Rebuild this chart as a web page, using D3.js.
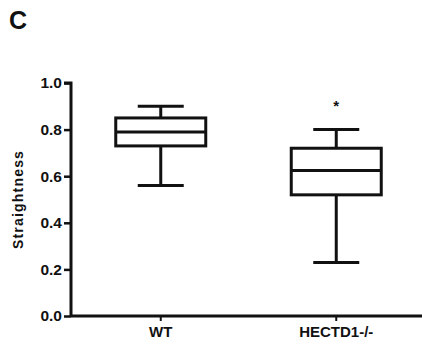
<!DOCTYPE html>
<html><head><meta charset="utf-8">
<script src="https://cdn.jsdelivr.net/npm/d3@7"></script>
<style>body{margin:0;background:#fff}svg{display:block}text{font-family:"Liberation Sans",Arial,sans-serif;font-weight:bold;fill:#111}</style>
</head><body>
<script>
const categories = ["WT", "HECTD1-/-"];
const whiskerLow = [0.56, 0.23];
const q1 = [0.73, 0.52];
const median = [0.79, 0.625];
const q3 = [0.85, 0.72];
const whiskerHigh = [0.90, 0.80];
const significance = ["", "*"];
const yTicks = [0.0, 0.2, 0.4, 0.6, 0.8, 1.0];

const W = 422, H = 349;
const svg = d3.select("body").append("svg").attr("width", W).attr("height", H);
const m = {left: 71, right: 2, top: 83, bottom: 33};
const y = d3.scaleLinear().domain([0, 1]).range([H - m.bottom, m.top]);
const x = d3.scaleBand().domain(categories).range([m.left + 2, W + 2]).padding(0.0);

const sw = 3;
const col = "#111";

// y axis
const ya = svg.append("g").attr("transform", `translate(${m.left},0)`)
  .call(d3.axisLeft(y).tickValues(yTicks).tickFormat(d3.format(".1f")).tickSize(7).tickPadding(2));
ya.select(".domain").attr("stroke", col).attr("stroke-width", sw).attr("d", `M-7,${y(1)}H0V${y(0)}`);
ya.selectAll(".tick line").attr("stroke", col).attr("stroke-width", 2.5);
ya.selectAll(".tick text").attr("font-size", 15.5).attr("fill", "#111");

// x axis
const xa = svg.append("g").attr("transform", `translate(0,${y(0)})`)
  .call(d3.axisBottom(x).tickSize(5).tickPadding(5));
xa.select(".domain").attr("stroke", col).attr("stroke-width", sw).attr("d", `M${m.left},0H${W}`);
xa.selectAll(".tick line").attr("stroke", col).attr("stroke-width", 2);
xa.selectAll(".tick text").attr("font-size", 15).attr("fill", "#111");

// boxes
const boxW = 90, capW = 46;
const g = svg.append("g").attr("stroke", col).attr("stroke-width", sw).attr("fill", "none");
categories.forEach((c, i) => {
  const cx = x(c) + x.bandwidth() / 2;
  g.append("line").attr("x1", cx).attr("x2", cx).attr("y1", y(whiskerHigh[i])).attr("y2", y(q3[i]));
  g.append("line").attr("x1", cx).attr("x2", cx).attr("y1", y(q1[i])).attr("y2", y(whiskerLow[i]));
  g.append("line").attr("x1", cx - capW/2).attr("x2", cx + capW/2).attr("y1", y(whiskerHigh[i])).attr("y2", y(whiskerHigh[i]));
  g.append("line").attr("x1", cx - capW/2).attr("x2", cx + capW/2).attr("y1", y(whiskerLow[i])).attr("y2", y(whiskerLow[i]));
  g.append("rect").attr("x", cx - boxW/2).attr("y", y(q3[i])).attr("width", boxW).attr("height", y(q1[i]) - y(q3[i]));
  g.append("line").attr("x1", cx - boxW/2).attr("x2", cx + boxW/2).attr("y1", y(median[i])).attr("y2", y(median[i]));
  if (significance[i]) {
    svg.append("text").attr("x", cx).attr("y", y(whiskerHigh[i]) - 19).attr("text-anchor", "middle")
      .attr("font-size", 15).attr("font-weight", "normal").text(significance[i]);
  }
});

// y label
svg.append("text").attr("transform", `translate(23,${(y(0)+y(1))/2}) rotate(-90)`)
  .attr("text-anchor", "middle").attr("font-size", 14).attr("letter-spacing", "1.2px").text("Straightness");

// panel letter
svg.append("text").attr("x", 9).attr("y", 29).attr("font-size", 25).text("C");
</script>
</body></html>
